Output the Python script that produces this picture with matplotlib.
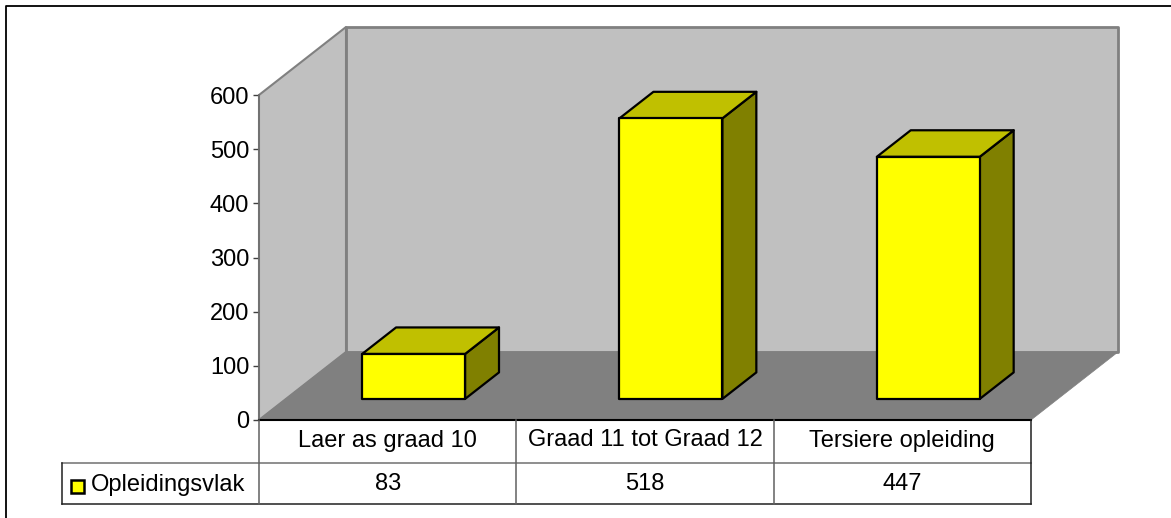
import matplotlib
matplotlib.use("Agg")
import matplotlib.pyplot as plt
from matplotlib.patches import Polygon, Rectangle

categories = ["Laer as graad 10", "Graad 11 tot Graad 12", "Tersiere opleiding"]
values = [83, 518, 447]
series_name = "Opleidingsvlak"
y_ticks = [0, 100, 200, 300, 400, 500, 600]

W, H = 1171, 518
plt.rcParams["font.family"] = ["Liberation Sans", "DejaVu Sans"]
label_size = 17

fig = plt.figure(figsize=(W / 100, H / 100), dpi=100)


def px_box(x0, y0, x1, y1):
    # pixel box (y from the top) to figure fractions
    return [x0 / W, 1 - y1 / H, (x1 - x0) / W, (y1 - y0) / H]


# whole figure overlay for the outer frame, only left and top are in the picture
bg = fig.add_axes([0, 0, 1, 1], zorder=0)
bg.set_xlim(0, W)
bg.set_ylim(H, 0)
bg.axis("off")
bg.plot([6, 6, W], [H, 5.5, 5.5], color="black", lw=1.3)

ax = fig.add_axes(px_box(259, 95, 1031, 420), zorder=1)
ax.set_xlim(0, len(categories))
ax.set_ylim(0, 600)
ax.patch.set_visible(False)
for s in ["top", "right", "bottom"]:
    ax.spines[s].set_visible(False)
ax.spines["left"].set_color("#707070")
ax.spines["left"].set_linewidth(1.2)
ax.spines["left"].set_zorder(5)
ax.set_xticks([])
ax.set_yticks(y_ticks)
ax.tick_params(axis="y", length=4, width=1, color="#404040", labelsize=label_size, pad=3)

# how far the depth axis shifts things, in axis units
depth_x = 87 / (772 / 3)
depth_y = 68 * 600 / 325


def proj(x, y, d):
    return (x + d * depth_x, y + d * depth_y)


def face(points, color, edge, lw, z):
    ax.add_patch(Polygon(points, closed=True, facecolor=color, edgecolor=edge,
                         linewidth=lw, clip_on=False, zorder=z, joinstyle="round"))


n = len(categories)
wall_edge = "#808080"
# back wall, side wall, floor
face([proj(0, 0, 1), proj(n, 0, 1), proj(n, 600, 1), proj(0, 600, 1)],
     "#c0c0c0", wall_edge, 2.0, 1)
face([proj(0, 0, 0), proj(0, 0, 1), proj(0, 600, 1), proj(0, 600, 0)],
     "#c0c0c0", wall_edge, 1.5, 1)
face([proj(0, 0, 0), proj(n, 0, 0), proj(n, 0, 1), proj(0, 0, 1)],
     "#808080", "#808080", 0.5, 2)

# bars
bar_w = 0.4
d0, d1 = 0.31, 0.70
for i, v in enumerate(values):
    l, r = i + 0.496 - bar_w / 2, i + 0.496 + bar_w / 2
    face([proj(r, 0, d0), proj(r, 0, d1), proj(r, v, d1), proj(r, v, d0)],
         "#808000", "black", 1.6, 3)
    face([proj(l, v, d0), proj(r, v, d0), proj(r, v, d1), proj(l, v, d1)],
         "#c0c000", "black", 1.6, 3)
    face([proj(l, 0, d0), proj(r, 0, d0), proj(r, v, d0), proj(l, v, d0)],
         "#ffff00", "black", 1.6, 4)

# data table under the axis
tb = fig.add_axes(px_box(62, 420, 1031, 504), zorder=2)
tb.set_xlim(62, 1031)
tb.set_ylim(504, 420)
tb.axis("off")
col_x = [259 + k * 772 / n for k in range(n + 1)]
row_y = [420, 463, 504]
tb.plot([259, 1031], [420, 420], color="black", lw=1.5, clip_on=False)
tb.plot([62, 1031], [row_y[1]] * 2, color="#707070", lw=1.1, clip_on=False)
tb.plot([62, 1031], [row_y[2]] * 2, color="#202020", lw=1.1, clip_on=False)
tb.plot([62, 62], row_y[1:], color="#202020", lw=1.1, clip_on=False)
for k, x in enumerate(col_x):
    color = "#202020" if k == n else "#606060"
    tb.plot([x, x], [row_y[0], row_y[2]], color=color, lw=1.1, clip_on=False)
for i, (c, v) in enumerate(zip(categories, values)):
    xc = (col_x[i] + col_x[i + 1]) / 2
    tb.text(xc, 440.5, c, ha="center", va="center", fontsize=label_size)
    tb.text(xc, 484, str(v), ha="center", va="center", fontsize=label_size)
tb.add_patch(Rectangle((70.5, 480), 13, 13, facecolor="#ffff00", edgecolor="black",
                       linewidth=1.8, clip_on=False))
tb.text(91, 485, series_name, ha="left", va="center", fontsize=label_size)

fig.savefig("out.png", dpi=100, facecolor="white")
